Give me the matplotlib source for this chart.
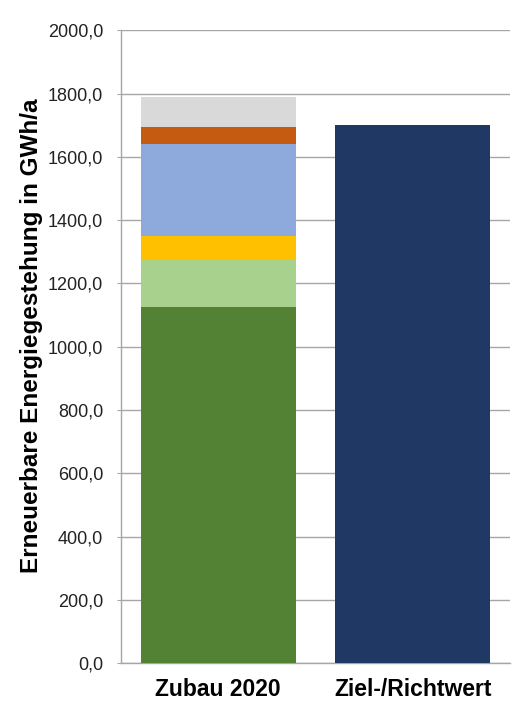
import matplotlib.pyplot as plt
import numpy as np

plt.rcParams['font.family'] = ['Liberation Sans', 'DejaVu Sans']

# Zubau 2020, Anteile je Energieträger (GWh/a), von unten nach oben
categories = ["Zubau 2020", "Ziel-/Richtwert"]
zubau_segments = [1124.0, 149.0, 77.0, 292.0, 52.0, 95.0]
segment_colors = ["#548235", "#A9D18E", "#FFC000", "#8EA9DB", "#C55A11", "#D9D9D9"]
zielwert = 1700.0
ziel_color = "#203864"

yticks = np.arange(0, 2001, 200)

fig = plt.figure(figsize=(5.13, 7.04), dpi=100)
ax = fig.add_axes([0.236, 0.058, 0.758, 0.899])

x = np.arange(len(categories))
width = 0.8

bottom = 0.0
for val, col in zip(zubau_segments, segment_colors):
    ax.bar(x[0], val, width, bottom=bottom, color=col, zorder=3)
    bottom += val
ax.bar(x[1], zielwert, width, color=ziel_color, zorder=3)

ax.set_xlim(-0.5, 1.5)
ax.set_ylim(0, 2000)
ax.set_yticks(yticks)
ax.set_yticklabels([f"{v:.1f}".replace(".", ",") for v in yticks], fontsize=13,
                   color="#222222")
ax.set_xticks(x)
ax.set_xticklabels(categories, fontsize=16.5, fontweight="bold")
ax.tick_params(axis="x", length=0, pad=11)
ax.tick_params(axis="y", length=3, color="#A6A6A6", pad=10)

ax.yaxis.grid(True, color="#A6A6A6", lw=1.0, zorder=0)
for side in ["top", "right"]:
    ax.spines[side].set_visible(False)
for side in ["left", "bottom"]:
    ax.spines[side].set_color("#A6A6A6")
    ax.spines[side].set_linewidth(1.0)

ax.set_ylabel("Erneuerbare Energiegestehung in GWh/a", fontsize=17.5,
              fontweight="bold")
ax.yaxis.set_label_coords(-0.2, 0.518)

fig.savefig("out.png", dpi=100)
